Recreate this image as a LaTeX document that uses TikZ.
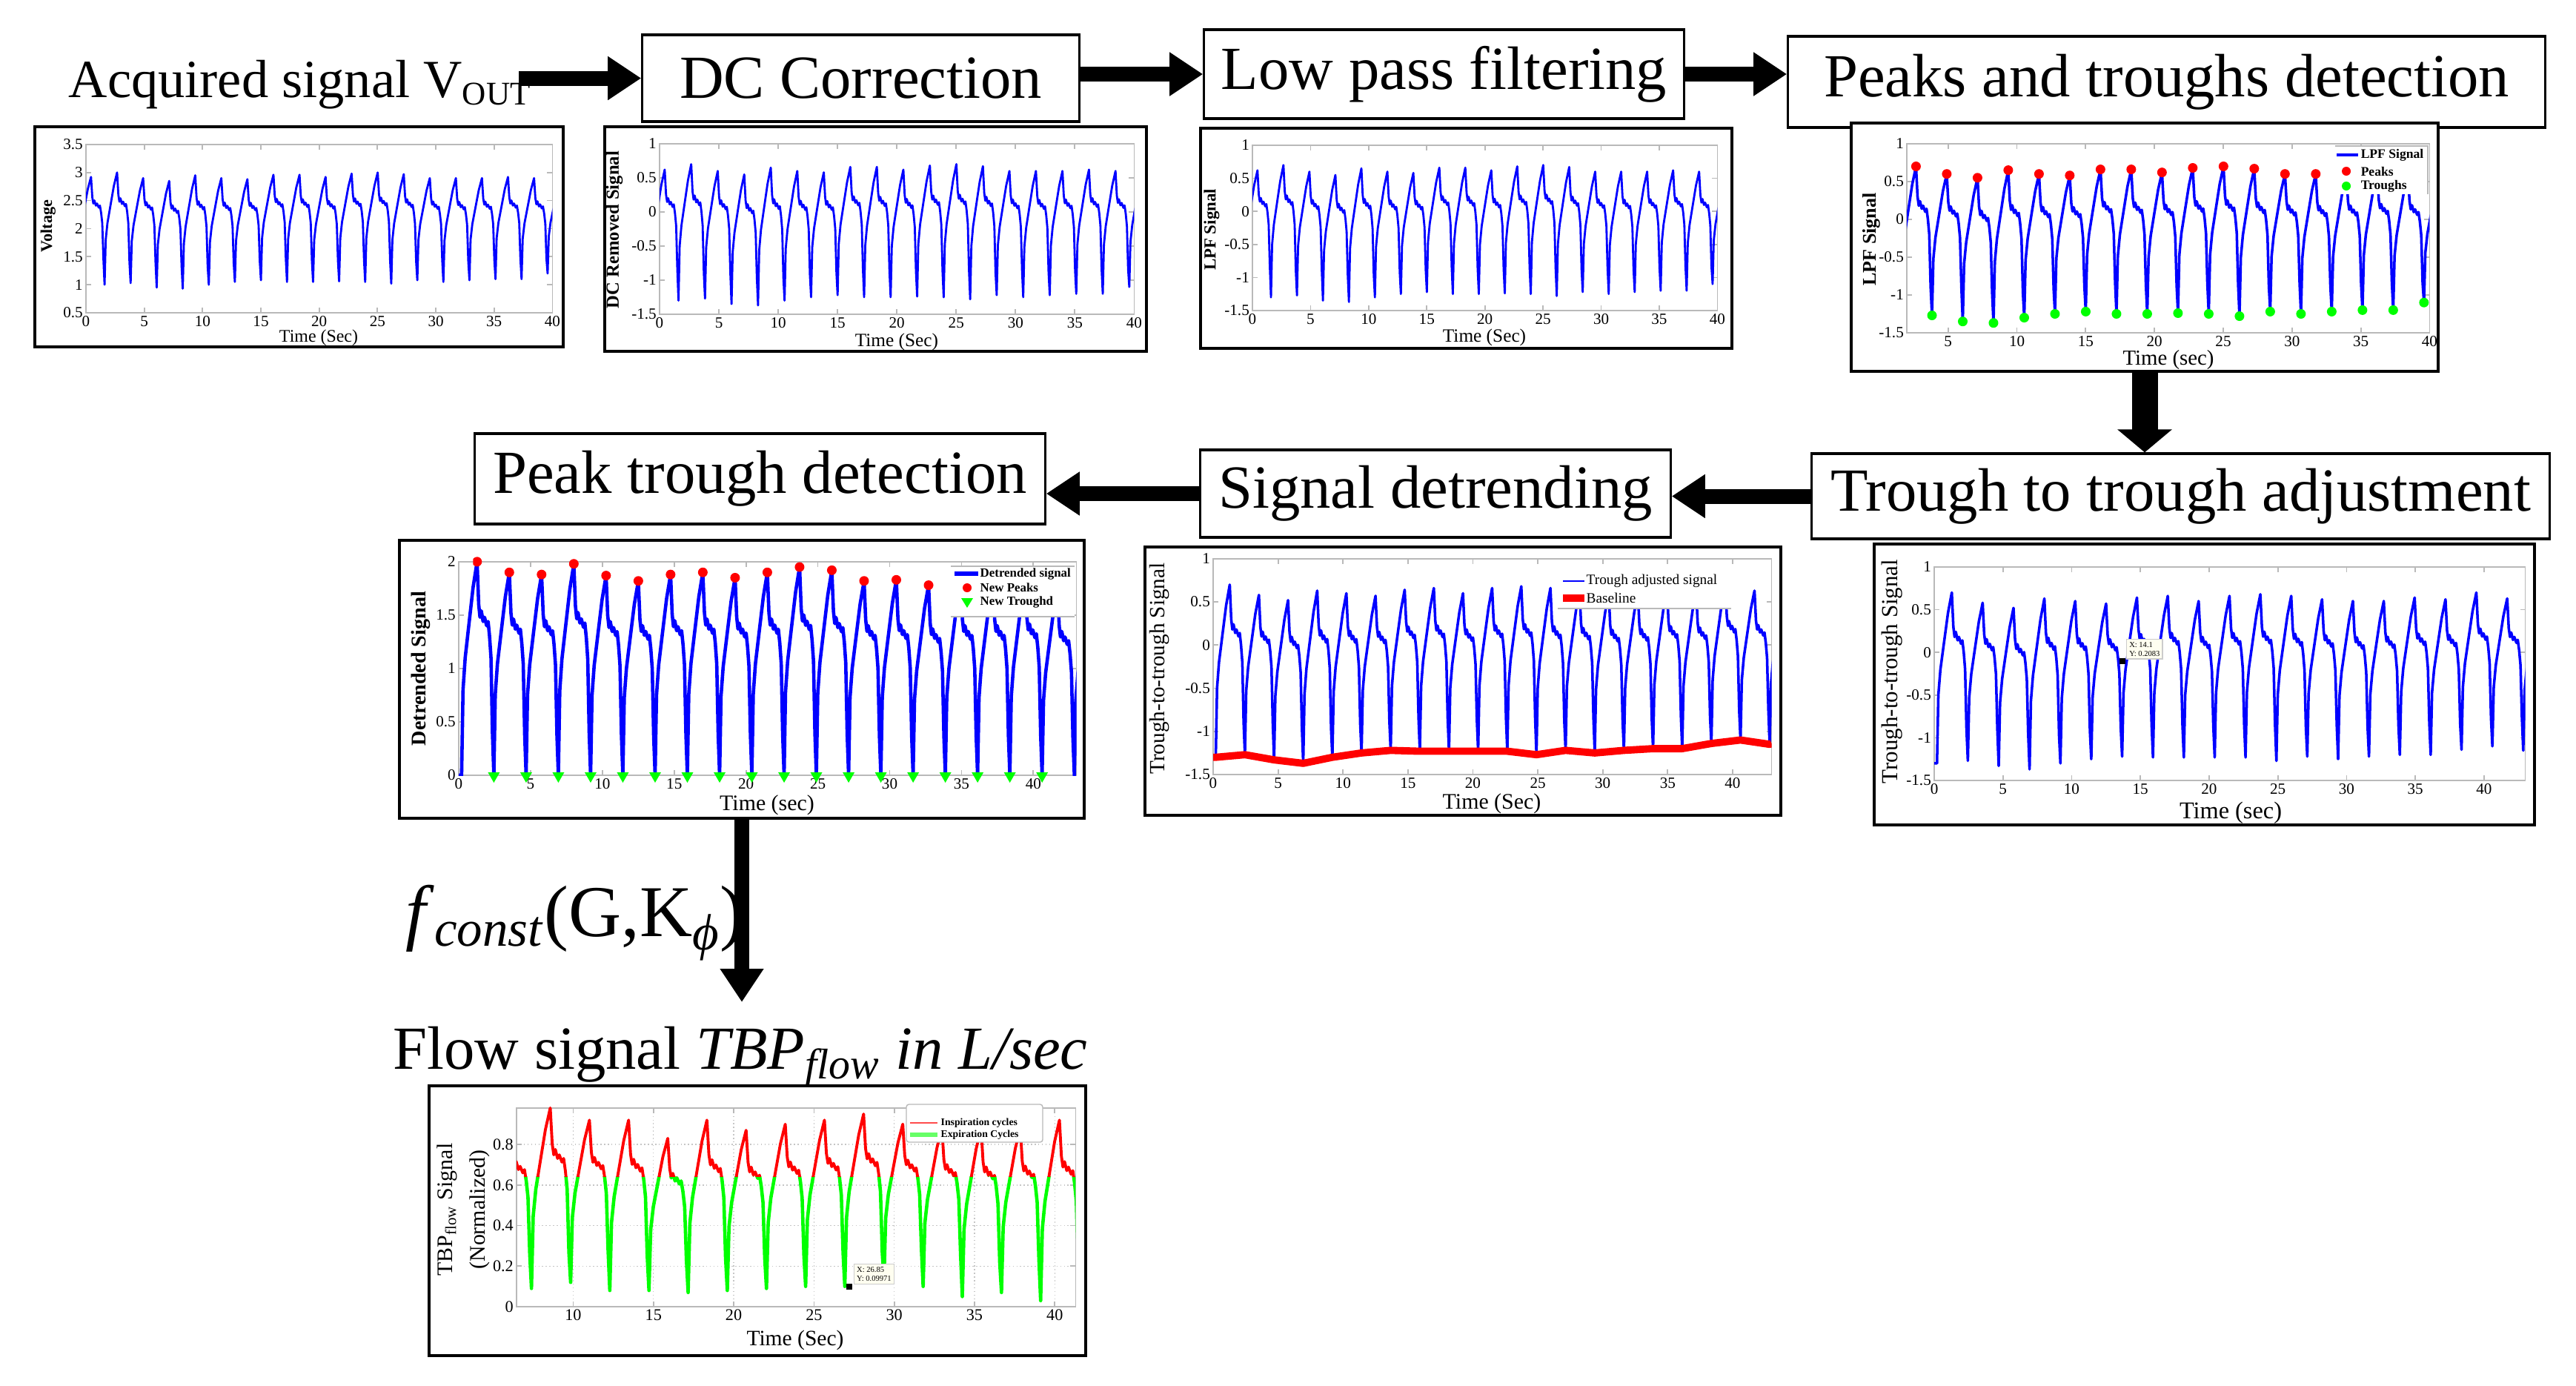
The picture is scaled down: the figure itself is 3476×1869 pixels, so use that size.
\documentclass[tikz,border=0pt]{standalone}
\usepackage{fontspec}
\setmainfont{Liberation Serif}
\usetikzlibrary{arrows.meta,positioning,shapes.geometric}

% one breathing cycle per list entry trough/peak, continues the current path
\newcommand{\breath}[3]{%
  \foreach \yL/\yP [count=\cyc from 0] in #3 {
    \foreach \fr/\sv in {0/0,.044/.40,.111/.55,.222/.70,.356/.88,.48/1,.53/.80,.57/.74,.61/.77,.667/.72,.711/.74,.778/.70,.822/.72,.867/.65,.911/.55,.956/.20}{
      -- ({#1+(\cyc+\fr)*#2},{\yL+\sv*(\yP-(\yL))})
    }
  }}

% trough/peak levels of the recorded cycles
\def\lpfcyc{-1.20/0.62,-1.30/0.70,-1.27/0.60,-1.35/0.55,-1.37/0.65,-1.30/0.60,-1.25/0.58,-1.22/0.66,-1.25/0.66,-1.25/0.62,-1.24/0.68,-1.25/0.70,-1.28/0.67,-1.22/0.60,-1.25/0.60,-1.22/0.60,-1.20/0.62,-1.20/0.60,-1.10/0.55,-1.15/0.60}
\def\ttcyc{-1.30/0.70,-1.27/0.58,-1.33/0.52,-1.37/0.63,-1.30/0.60,-1.25/0.57,-1.22/0.64,-1.23/0.66,-1.23/0.60,-1.23/0.66,-1.23/0.68,-1.27/0.66,-1.22/0.62,-1.25/0.60,-1.22/0.60,-1.20/0.64,-1.20/0.62,-1.14/0.70,-1.10/0.63,-1.15/0.60}
\def\detcyc{0/2.00,0/1.90,0/1.88,0/1.98,0/1.87,0/1.82,0/1.88,0/1.90,0/1.85,0/1.90,0/1.95,0/1.92,0/1.82,0/1.83,0/1.78,0/1.82,0/1.82,0/1.84,0/1.75,0/1.75}
\def\flowcyc{0.10/0.90,0.09/0.98,0.12/0.92,0.08/0.92,0.08/0.83,0.07/0.92,0.08/0.87,0.09/0.90,0.10/0.92,0.10/0.95,0.13/0.90,0.10/0.88,0.05/0.88,0.07/0.88,0.03/0.92,0.08/0.88}

\begin{document}
\begin{tikzpicture}[x=0.01cm, y=-0.01cm,
    stage/.style={draw, line width=0.9pt, fill=white, inner sep=0pt, font=\fontsize{23.5}{28}\selectfont},
    flowarrow/.style={line width=0.2cm, -{Triangle[length=0.45cm, width=0.56cm]}},
    plotframe/.style={draw, line width=1.2pt, fill=white, inner sep=0pt},
    axbox/.style={draw=gray!55, line width=0.5pt},
    tick/.style={font=\fontsize{6}{6}\selectfont, inner sep=1pt},
    timelab/.style={inner sep=0pt, font=\fontsize{7.2}{8}\selectfont},
    ylab/.style={rotate=90, inner sep=0pt, font=\bfseries\fontsize{6.5}{7}\selectfont},
    sig/.style={draw=blue, line width=0.8pt, line join=round},
    legtext/.style={anchor=west, inner sep=0pt, font=\bfseries\fontsize{5}{5}\selectfont},
    datatip/.style={draw=gray!40, fill=yellow!6, anchor=north west, align=left, inner sep=1pt, font=\fontsize{3}{3.5}\selectfont}
]
\useasboundingbox (0,0) rectangle (3476,1869);

% ---------------- first row: stages ----------------
\node[anchor=base west, inner sep=0pt, font=\fontsize{20.6}{25}\selectfont] (acq) at (92,131) {Acquired signal V\textsubscript{\fontsize{12.7}{13}\selectfont OUT}};
\node[stage, minimum width=5.89cm, minimum height=1.17cm] (dc) at (1161.5,105.5) {DC Correction};
\node[stage, minimum width=6.47cm, minimum height=1.2cm] (lpf) at (1948.5,100) {Low pass filtering};
\node[stage, minimum width=10.21cm, minimum height=1.23cm] (pk) at (2923.5,110.5) {Peaks and troughs detection};

\draw[flowarrow] ([xshift=-0.18cm]acq.east |- dc.west) -- (dc.west);
\draw[flowarrow] (dc.east |- lpf.west) -- (lpf.west);
\draw[flowarrow] (lpf.east) -- (lpf.east -| pk.west);

% ---------------- acquired signal plot ----------------
\node[plotframe, minimum width=7.13cm, minimum height=2.97cm] (voutplot) at (403.5,319.5) {};
\begin{scope}[shift={(116,422)}, x=0.15725cm, y=0.75667cm, shift={(0,-0.5)}]
  \draw[axbox] (0,0.5) rectangle (40,3.5);
  \foreach \tm in {0,5,...,40} {
    \draw[axbox] (\tm,0.5) -- ++(0,0.07cm) (\tm,3.5) -- ++(0,-0.07cm);
    \node[tick, below] (vx\tm) at (\tm,0.5) {\tm};
  }
  \foreach \vv [count=\iy] in {0.5,1,1.5,2,2.5,3,3.5} {
    \draw[axbox] (0,\vv) -- ++(0.07cm,0) (40,\vv) -- ++(-0.07cm,0);
    \node[tick, left] (vy\iy) at (0,\vv) {\vv};
  }
  \begin{scope}
    \clip (0,0.5) rectangle (40,3.5);
    \draw[sig, shift={(0,2.3)}] (-0.64,-1.2) \breath{-0.64}{2.235}{\lpfcyc};
  \end{scope}
\end{scope}
\node[ylab, font=\bfseries\fontsize{6.3}{7}\selectfont] (voutylab) at (65,305) {Voltage};
\node[timelab, font=\fontsize{6.8}{7}\selectfont] (voutxlab) at (430,456) {Time (Sec)};

% ---------------- DC removed plot ----------------
\node[plotframe, minimum width=7.31cm, minimum height=3.03cm] (dcplot) at (1181.5,322.5) {};
\begin{scope}[shift={(890,424)}, x=0.16cm, y=0.92cm, shift={(0,1.5)}]
  \draw[axbox] (0,-1.5) rectangle (40,1);
  \foreach \tm in {0,5,...,40} {
    \draw[axbox] (\tm,-1.5) -- ++(0,0.07cm) (\tm,1) -- ++(0,-0.07cm);
    \node[tick, below] (dx\tm) at (\tm,-1.5) {\tm};
  }
  \foreach \vv [count=\iy] in {-1.5,-1,-0.5,0,0.5,1} {
    \draw[axbox] (0,\vv) -- ++(0.07cm,0) (40,\vv) -- ++(-0.07cm,0);
    \node[tick, left] (dy\iy) at (0,\vv) {\vv};
  }
  \begin{scope}
    \clip (0,-1.5) rectangle (40,1);
    \draw[sig] (-0.64,-1.2) \breath{-0.64}{2.235}{\lpfcyc};
  \end{scope}
\end{scope}
\node[ylab, font=\bfseries\fontsize{7}{7}\selectfont] (dcylab) at (829,310) {DC Removed Signal};
\node[timelab] (dcxlab) at (1210,461) {Time (Sec)};

% ---------------- low pass filtered plot ----------------
\node[plotframe, minimum width=7.17cm, minimum height=2.97cm] (lpfplot) at (1978.5,321.5) {};
\begin{scope}[shift={(1690,419)}, x=0.15675cm, y=0.892cm, shift={(0,1.5)}]
  \draw[axbox] (0,-1.5) rectangle (40,1);
  \foreach \tm in {0,5,...,40} {
    \draw[axbox] (\tm,-1.5) -- ++(0,0.07cm) (\tm,1) -- ++(0,-0.07cm);
    \node[tick, below] (lx\tm) at (\tm,-1.5) {\tm};
  }
  \foreach \vv [count=\iy] in {-1.5,-1,-0.5,0,0.5,1} {
    \draw[axbox] (0,\vv) -- ++(0.07cm,0) (40,\vv) -- ++(-0.07cm,0);
    \node[tick, left] (ly\iy) at (0,\vv) {\vv};
  }
  \begin{scope}
    \clip (0,-1.5) rectangle (40,1);
    \draw[sig] (-0.64,-1.2) \breath{-0.64}{2.235}{\lpfcyc};
  \end{scope}
\end{scope}
\node[ylab] (lpfylab) at (1635,310) {LPF Signal};
\node[timelab] (lpfxlab) at (2003,455) {Time (Sec)};

% ---------------- peaks and troughs plot ----------------
\node[plotframe, minimum width=7.92cm, minimum height=3.35cm] (pkplot) at (2894,333.5) {};
\begin{scope}[shift={(2573,449)}, x=0.18553cm, y=1.02cm, shift={(-2,1.5)}]
  \draw[axbox] (2,-1.5) rectangle (40,1);
  \foreach \tm in {5,10,...,40} {
    \draw[axbox] (\tm,-1.5) -- ++(0,0.07cm) (\tm,1) -- ++(0,-0.07cm);
    \node[tick, below] (px\tm) at (\tm,-1.5) {\tm};
  }
  \foreach \vv [count=\iy] in {-1.5,-1,-0.5,0,0.5,1} {
    \draw[axbox] (2,\vv) -- ++(0.07cm,0) (40,\vv) -- ++(-0.07cm,0);
    \node[tick, left] (py\iy) at (2,\vv) {\vv};
  }
  \begin{scope}
    \clip (2,-1.5) rectangle (40,1);
    \draw[sig, line width=1pt] (-0.64,-1.2) \breath{-0.64}{2.235}{\lpfcyc};
  \end{scope}
  \begin{scope}
    \clip (2,-1.6) rectangle (40.2,1);
    \foreach \yL/\yP [count=\cc from 0] in \lpfcyc {
      \fill[red] ({-0.64+(\cc+0.48)*2.235},\yP) circle[radius=0.065cm];
      \fill[green] ({-0.64+\cc*2.235},\yL) circle[radius=0.065cm];
    }
  \end{scope}
\end{scope}
\node[ylab, font=\bfseries\fontsize{7.4}{8}\selectfont] (pkylab) at (2525,323) {LPF Signal};
\node[timelab, font=\fontsize{8.2}{9}\selectfont] (pkxlab) at (2926,486) {Time (sec)};
% legend
\fill[white] (3151,196) rectangle (3276,262);
\draw[axbox] (3151,197) -- (3276,197) -- (3276,262);
\draw[blue, line width=1.2pt] (3153,209) -- (3182,209);
\node[legtext] (pkleg1) at (3185,209) {LPF Signal};
\fill[red] (3166,231) circle[radius=0.06cm];
\node[legtext] (pkleg2) at (3185,231) {Peaks};
\fill[green] (3166,251) circle[radius=0.06cm];
\node[legtext] (pkleg3) at (3185,251) {Troughs};

% ---------------- second row: stages ----------------
\node[stage, minimum width=9.96cm, minimum height=1.15cm] (tt) at (2942.5,669.5) {Trough to trough adjustment};
\node[stage, minimum width=6.34cm, minimum height=1.18cm] (sd) at (1937,666) {Signal detrending};
\node[stage, minimum width=7.69cm, minimum height=1.22cm] (ptd) at (1025.5,646) {Peak trough detection};

\draw[flowarrow, line width=0.35cm, -{Triangle[length=0.31cm, width=0.72cm]}] (pkplot.south) -- (pkplot.south |- tt.north);
\draw[flowarrow] (tt.west) -- (tt.west -| sd.east);
\draw[flowarrow] (sd.west) -- (sd.west -| ptd.east);

% ---------------- trough adjusted plot (right) ----------------
\node[plotframe, minimum width=8.91cm, minimum height=3.79cm] (ttplot) at (2974.5,923.5) {};
\begin{scope}[shift={(2610,1053)}, x=0.18535cm, y=1.152cm, shift={(0,1.5)}]
  \draw[axbox] (0,-1.5) rectangle (43,1);
  \foreach \tm in {0,5,...,40} {
    \draw[axbox] (\tm,-1.5) -- ++(0,0.07cm) (\tm,1) -- ++(0,-0.07cm);
    \node[tick, below] (tx\tm) at (\tm,-1.5) {\tm};
  }
  \foreach \vv [count=\iy] in {-1.5,-1,-0.5,0,0.5,1} {
    \draw[axbox] (0,\vv) -- ++(0.07cm,0) (43,\vv) -- ++(-0.07cm,0);
    \node[tick, left] (ty\iy) at (0,\vv) {\vv};
  }
  \begin{scope}
    \clip (0,-1.5) rectangle (43,1);
    \draw[sig, line width=1pt] (0,-1.3) \breath{0.2}{2.245}{\ttcyc};
  \end{scope}
\end{scope}
\node[ylab, font=\fontsize{8.8}{9}\selectfont] (ttylab) at (2553,906) {Trough-to-trough Signal};
\node[timelab, font=\fontsize{9.2}{10}\selectfont] (ttxlab) at (3010,1097) {Time (sec)};
\fill (2860,888) rectangle (2868,896);
\node[datatip] (tttip) at (2869,862) {X: 14.1\\Y: 0.2083};

% ---------------- trough adjusted plot with baseline ----------------
\node[plotframe, minimum width=8.58cm, minimum height=3.62cm] (ttbplot) at (1974,919) {};
\begin{scope}[shift={(1637,1045)}, x=0.17512cm, y=1.164cm, shift={(0,1.5)}]
  \draw[axbox] (0,-1.5) rectangle (43,1);
  \foreach \tm in {0,5,...,40} {
    \draw[axbox] (\tm,-1.5) -- ++(0,0.07cm) (\tm,1) -- ++(0,-0.07cm);
    \node[tick, below] (bx\tm) at (\tm,-1.5) {\tm};
  }
  \foreach \vv [count=\iy] in {-1.5,-1,-0.5,0,0.5,1} {
    \draw[axbox] (0,\vv) -- ++(0.07cm,0) (43,\vv) -- ++(-0.07cm,0);
    \node[tick, left] (by\iy) at (0,\vv) {\vv};
  }
  \begin{scope}
    \clip (0,-1.6) rectangle (43,1);
    \draw[sig, line width=1pt] (0,-1.3) \breath{0.2}{2.245}{\ttcyc};
    \draw[red, line width=2.8pt, line join=round] (0,-1.3)
      \foreach \yL/\yP [count=\cc from 0] in \ttcyc { -- ({0.2+\cc*2.245},\yL) } -- (43,-1.14);
  \end{scope}
\end{scope}
\node[ylab, font=\fontsize{8.3}{9}\selectfont] (ttbylab) at (1564,902) {Trough-to-trough Signal};
\node[timelab, font=\fontsize{8.5}{9}\selectfont] (ttbxlab) at (2013,1084) {Time (Sec)};
% legend
\fill[white] (2102,772) rectangle (2336,821);
\draw[axbox] (2102,821) -- (2336,821);
\draw[blue, line width=0.8pt] (2109,784) -- (2138,784);
\node[legtext, font=\fontsize{5.5}{6}\selectfont] (ttbleg1) at (2140,784) {Trough adjusted signal};
\draw[red, line width=2.8pt] (2109,807) -- (2138,807);
\node[legtext, font=\fontsize{5.5}{6}\selectfont] (ttbleg2) at (2140,807) {Baseline};

% ---------------- detrended plot ----------------
\node[plotframe, minimum width=9.24cm, minimum height=3.75cm] (detplot) at (1001,916.5) {};
\begin{scope}[shift={(619,1046)}, x=0.19372cm, y=1.44cm]
  \draw[axbox] (0,0) rectangle (43,2);
  \foreach \tm in {0,5,...,40} {
    \draw[axbox] (\tm,0) -- ++(0,0.07cm) (\tm,2) -- ++(0,-0.07cm);
    \node[tick, below] (ex\tm) at (\tm,0) {\tm};
  }
  \foreach \vv [count=\iy] in {0,0.5,1,1.5,2} {
    \draw[axbox] (0,\vv) -- ++(0.07cm,0) (43,\vv) -- ++(-0.07cm,0);
    \node[tick, left] (ey\iy) at (0,\vv) {\vv};
  }
  \begin{scope}
    \clip (0,0) rectangle (43,2.1);
    \draw[sig, line width=1.3pt] (0,0) \breath{0.2}{2.245}{\detcyc};
  \end{scope}
  \begin{scope}
    \clip (1,-0.2) rectangle (41.5,2.2);
    \foreach \yL/\yP [count=\cc from 0] in \detcyc {
      \fill[red] ({0.2+(\cc+0.48)*2.245},\yP) circle[radius=0.065cm];
      \fill[green] ({0.2+\cc*2.245},0) ++(-0.08cm,0.04cm) -- ++(0.16cm,0) -- ++(-0.08cm,-0.14cm) -- cycle;
    }
  \end{scope}
\end{scope}
\node[ylab, font=\bfseries\fontsize{8}{9}\selectfont] (detylab) at (568,902) {Detrended Signal};
\node[timelab, font=\fontsize{8.5}{9}\selectfont] (detxlab) at (1035,1086) {Time (sec)};
% legend
\fill[white] (1283,764) rectangle (1450,832);
\draw[axbox] (1283,764) -- (1450,764) (1283,832) -- (1450,832);
\draw[blue, line width=1.5pt] (1288,774) -- (1320,774);
\node[legtext, font=\bfseries\fontsize{4.8}{5}\selectfont] (detleg1) at (1322,774) {Detrended signal};
\fill[red] (1305,793) circle[radius=0.06cm];
\node[legtext, font=\bfseries\fontsize{4.8}{5}\selectfont] (detleg2) at (1322,793) {New Peaks};
\fill[green] (1297,807) -- (1313,807) -- (1305,820) -- cycle;
\node[legtext, font=\bfseries\fontsize{4.8}{5}\selectfont] (detleg3) at (1322,812) {New Troughd};

% ---------------- conversion to flow ----------------
\coordinate (ftip) at (1001,1352);
\draw[flowarrow] (detplot.south) -- (ftip);
\node[inner sep=0pt, font=\fontsize{28}{32}\selectfont] (fconst) at (776,1245) {\textit{f}\textsubscript{\textit{const}}(G,K\textsubscript{\textit{ϕ}})};
\node[anchor=base, inner sep=0pt, font=\fontsize{23.5}{28}\selectfont] (flowtxt) at (999,1442) {Flow signal \textit{TBP\textsubscript{flow} in L/sec}};

% ---------------- flow plot ----------------
\node[plotframe, minimum width=8.86cm, minimum height=3.64cm] (flowplot) at (1022,1647) {};
\begin{scope}[shift={(697,1763)}, x=0.21648cm, y=2.735cm, shift={(-6.47,0)}]
  \foreach \tm in {10,15,...,40}
    \draw[gray!45, densely dotted] (\tm,0) -- (\tm,0.98);
  \foreach \vv in {0.2,0.4,0.6,0.8}
    \draw[gray!45, densely dotted] (6.47,\vv) -- (41.3,\vv);
  \draw[axbox] (6.47,0) rectangle (41.3,0.98);
  \foreach \tm in {10,15,...,40} {
    \draw[axbox] (\tm,0) -- ++(0,0.07cm) (\tm,0.98) -- ++(0,-0.07cm);
    \node[tick, below, font=\fontsize{6.3}{7}\selectfont] (fx\tm) at (\tm,0) {\tm};
  }
  \foreach \vv [count=\iy] in {0,0.2,0.4,0.6,0.8} {
    \draw[axbox] (6.47,\vv) -- ++(0.07cm,0) (41.3,\vv) -- ++(-0.07cm,0);
    \node[tick, left, font=\fontsize{6.3}{7}\selectfont] (fy\iy) at (6.47,\vv) {\vv};
  }
  \begin{scope}
    \clip (6.47,0) rectangle (41.3,0.64);
    \draw[sig, draw=green, line width=1.3pt] (4.96,0.1) \breath{4.96}{2.44}{\flowcyc};
  \end{scope}
  \begin{scope}
    \clip (6.47,0.64) rectangle (41.3,1.05);
    \draw[sig, draw=red, line width=1.1pt] (4.96,0.1) \breath{4.96}{2.44}{\flowcyc};
  \end{scope}
\end{scope}
\node[rotate=90, align=center, inner sep=0pt, font=\fontsize{8.5}{12.5}\selectfont] (flowylab) at (625,1632) {TBP\textsubscript{flow} Signal\\(Normalized)};
\node[timelab, font=\fontsize{8.4}{9}\selectfont] (flowxlab) at (1073,1808) {Time (Sec)};
\fill (1142,1732) rectangle (1150,1740);
\node[datatip] (flowtip) at (1152,1705) {X: 26.85\\Y: 0.09971};
% legend
\draw[gray!55, fill=white, rounded corners=1pt] (1223,1490) rectangle (1407,1541);
\draw[red!70, line width=0.5pt] (1228,1515) -- (1265,1515);
\node[legtext, font=\bfseries\fontsize{3.9}{4}\selectfont] (flowleg1) at (1269,1515) {Inspiration cycles};
\draw[green!60, line width=1.5pt] (1228,1531) -- (1265,1531);
\node[legtext, font=\bfseries\fontsize{3.9}{4}\selectfont] (flowleg2) at (1269,1531) {Expiration Cycles};

\end{tikzpicture}
\end{document}
